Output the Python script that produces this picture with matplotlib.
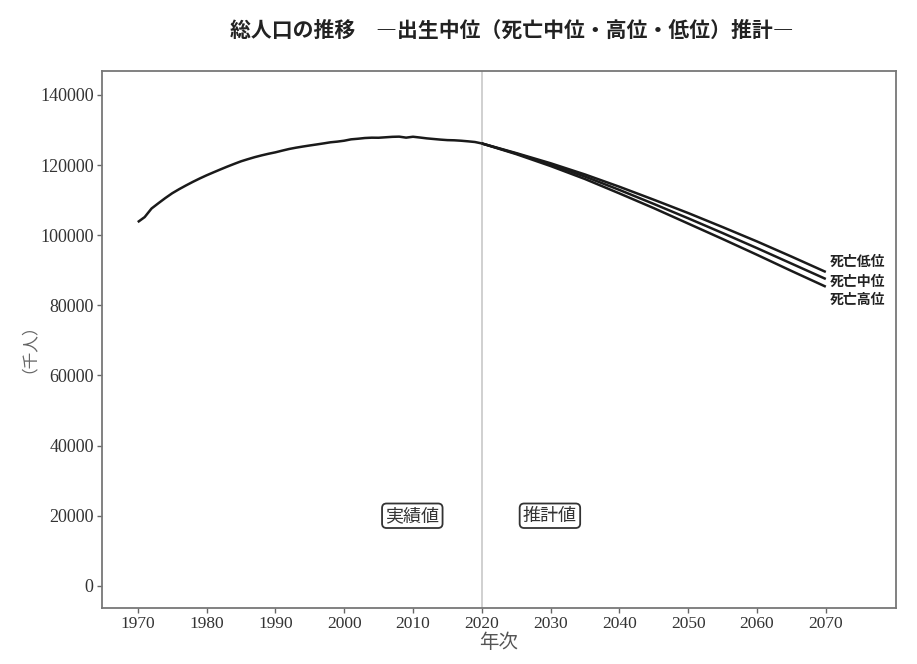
import matplotlib
matplotlib.use("Agg")
import matplotlib.pyplot as plt

# Actual total population (thousand persons), 1970-2020
years_actual = list(range(1970, 2021))
pop_actual = [
    103720, 105145, 107595, 109104, 110573, 111940, 113094, 114165, 115190, 116155,
    117060, 117902, 118728, 119536, 120305, 121049, 121660, 122239, 122745, 123205,
    123611, 124101, 124567, 124938, 125265, 125570, 125859, 126157, 126472, 126667,
    126926, 127316, 127486, 127694, 127787, 127768, 127901, 128033, 128084, 127800,
    128057, 127834, 127593, 127414, 127237, 127095, 127042, 126919, 126749, 126555,
    126146,
]

# Projections (medium fertility) under three mortality assumptions
years_proj = [2020, 2025, 2030, 2035, 2040, 2045, 2050, 2055, 2060, 2065, 2070]
pop_mort_low = [126146, 123400, 120500, 117300, 113800, 110100, 106300, 102300, 98200, 93900, 89500]
pop_mort_mid = [126146, 123262, 120116, 116700, 112900, 108900, 104800, 100600, 96300, 91900, 87500]
pop_mort_high = [126146, 123100, 119700, 116000, 111900, 107700, 103300, 98900, 94400, 89800, 85300]

series_labels = ["死亡低位", "死亡中位", "死亡高位"]
x_ticks = list(range(1970, 2071, 10))
y_ticks = list(range(0, 140001, 20000))

title = "総人口の推移　―出生中位（死亡中位・高位・低位）推計―"

cjk = ["Noto Sans CJK JP", "DejaVu Sans"]
serif = ["Liberation Serif", "DejaVu Serif"]

fig = plt.figure(figsize=(9.17, 6.64), dpi=100)
ax = fig.add_axes([102 / 917, 1 - 608 / 664, (896 - 102) / 917, (608 - 71) / 664])

ax.axvline(2020, color="#c8c8c8", lw=1.2, zorder=1)

line_kw = dict(color="#1a1a1a", lw=1.8, solid_capstyle="butt", zorder=3)
ax.plot(years_actual, pop_actual, **line_kw)
for vals in (pop_mort_low, pop_mort_mid, pop_mort_high):
    ax.plot(years_proj, vals, **line_kw)

# end labels, spaced apart so they stay readable
label_y = [92400, 86800, 81500]
for lab, ly in zip(series_labels, label_y):
    ax.text(2070.6, ly, lab, fontsize=10, fontweight="bold", family=cjk,
            color="#222222", va="center", ha="left")

box = dict(boxstyle="round,pad=0.18,rounding_size=0.25", fc="white", ec="#333333", lw=1.3)
ax.text(2009.9, 20000, "実績値", fontsize=13, family=cjk, color="#333333",
        ha="center", va="center", bbox=box)
ax.text(2029.9, 20000, "推計値", fontsize=13, family=cjk, color="#333333",
        ha="center", va="center", bbox=box)

ax.set_xlim(1964.8, 2080.2)
ax.set_ylim(-6300, 146800)
ax.set_xticks(x_ticks)
ax.set_yticks(y_ticks)
ax.set_xticklabels([str(t) for t in x_ticks], family=serif, fontsize=12.5, color="#333333")
ax.set_yticklabels([str(t) for t in y_ticks], family=serif, fontsize=13, color="#333333")
ax.tick_params(axis="both", length=3.5, width=1.0, color="#666666", pad=2.5)

for sp in ax.spines.values():
    sp.set_color("#777777")
    sp.set_linewidth(1.3)

ax.set_xlabel("年次", family=cjk, fontsize=14, color="#555555", labelpad=0)
ax.set_ylabel("（千人）", family=cjk, fontsize=12, color="#666666", labelpad=8)

fig.text(512 / 917, 1 - 30 / 664, title, family=cjk, fontsize=15, fontweight="bold",
         color="#222222", ha="center", va="center")

fig.savefig("out.png", dpi=100, facecolor="white")
